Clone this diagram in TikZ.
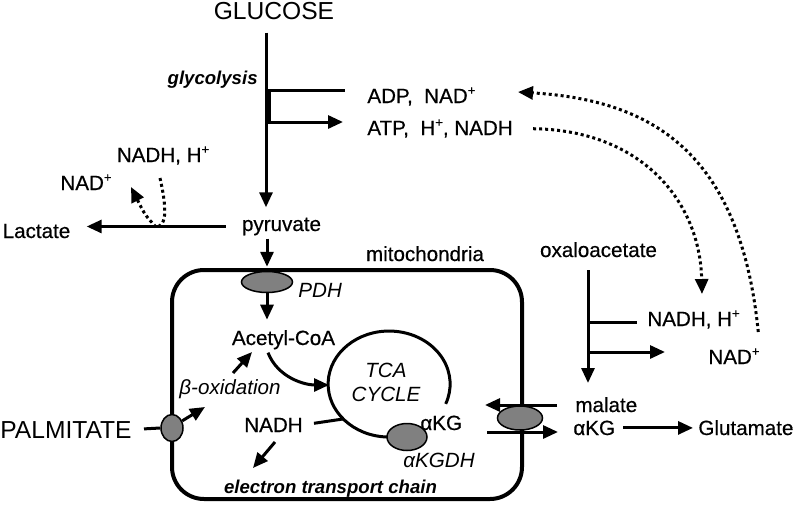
\documentclass[tikz,border=0pt]{standalone}
\usepackage{fontspec}
\setmainfont{Liberation Sans}
\usetikzlibrary{arrows.meta,shapes.geometric}

\definecolor{enzgray}{gray}{0.5}
\newcommand\ionp{\raisebox{0.75ex}{\fontsize{6.5}{6.5}\selectfont +}}

\tikzset{
    txt/.style={font=\fontsize{10.3}{12}\selectfont\addfontfeature{FakeBold=0.5}, inner sep=0pt},
    ital/.style={font=\fontsize{10.3}{12}\selectfont\itshape, inner sep=0pt},
    bigtxt/.style={font=\fontsize{12.3}{14}\selectfont, inner sep=0pt},
    note/.style={font=\fontsize{9.3}{11}\selectfont\bfseries\itshape, inner sep=0pt},
    enzyme/.style={ellipse, draw, line width=0.75pt, fill=enzgray, inner sep=0pt},
    link/.style={line width=1.5pt},
    flow/.style={line width=1.5pt, -{Triangle[length=7.5pt,width=6.5pt]}},
    hop/.style={line width=1.5pt, dash pattern=on 1.5pt off 1.5pt},
}

\begin{document}
\begin{tikzpicture}[x=0.5pt, y=-0.5pt]
        \useasboundingbox (0,0) rectangle (800,505);

        % mitochondrion and TCA cycle
        \draw[line width=2pt, rounded corners=16pt] (172,270) rectangle (522,499);
        \draw[link] (387,437) arc[start angle=92, end angle=382, x radius=61, y radius=53];

        % labels
        \node[bigtxt, anchor=base] (glucose) at (274,19) {GLUCOSE};
        \node[note, anchor=base east] (glyc) at (258,84) {glycolysis};
        \node[txt, anchor=base west] (adp) at (367,103) {ADP,\ \ NAD\ionp};
        \node[txt, anchor=base west] (atp) at (367,135) {ATP,\ \ H\ionp, NADH};
        \node[txt, anchor=base] (nadhL) at (163,162) {NADH, H\ionp};
        \node[txt, anchor=base] (nadL) at (86,190) {NAD\ionp};
        \node[txt, anchor=base] (lactate) at (36.5,238) {Lactate};
        \node[txt, anchor=base] (pyruvate) at (281.5,231) {pyruvate};
        \node[txt, anchor=base] (mito) at (425,261) {mitochondria};
        \node[txt, anchor=base] (oaa) at (598.5,257) {oxaloacetate};
        \node[txt, anchor=base west] (nadhR) at (647,326) {NADH, H\ionp};
        \node[txt, anchor=base west] (nadR) at (708,364) {NAD\ionp};
        \node[ital, anchor=base west] (pdhlbl) at (298,297) {PDH};
        \node[txt, anchor=base] (acoa) at (283.5,345) {Acetyl-CoA};
        \node[ital, anchor=base] (betaox) at (230,394) {β-oxidation};
        \node[ital, align=center] (tca) at (386,382.5) {TCA\\CYCLE};
        \node[txt, anchor=base] (nadhM) at (273.5,432) {NADH};
        \node[note, anchor=base] (etc) at (330.5,493) {electron transport chain};
        \node[txt, anchor=base west] (akgin) at (420,430) {αKG};
        \node[ital, anchor=base west] (akgdhlbl) at (403,467) {αKGDH};
        \node[txt, anchor=base west] (malate) at (575,412) {malate};
        \node[txt, anchor=base west] (akgout) at (573,435) {αKG};
        \node[txt, anchor=base west] (glut) at (698,435) {Glutamate};
        \node[bigtxt, anchor=base west] (palm) at (0,438) {PALMITATE};

        % enzymes and carriers
        \node[enzyme, minimum width=25.5pt, minimum height=10.5pt] (pdh) at (267,282) {};
        \node[enzyme, minimum width=11pt, minimum height=13.5pt] (fat) at (172,428) {};
        \node[enzyme, minimum width=20pt, minimum height=13.5pt] (akgdh) at (407,437) {};
        \node[enzyme, minimum width=22.5pt, minimum height=12pt] (carrier) at (520,418) {};

        \coordinate (gA) at (266,90);
        \coordinate (gB) at (266,122);
        \coordinate (lacIn) at (160,178);
        \coordinate (lacJ) at (156,227);
        \coordinate (lacOut) at (131,187);
        \coordinate (tcaW) at (329,385);
        \coordinate (tcaN) at (343,419);
        \coordinate (fatOut) at (205,407);
        \coordinate (boxA) at (233,373);
        \coordinate (boxB) at (252,352);
        \coordinate (etcA) at (275,442);
        \coordinate (etcB) at (253,468);
        \coordinate (mlA) at (557,405);
        \coordinate (mlB) at (485,405);
        \coordinate (kgA) at (487,432);
        \coordinate (kgB) at (558,432);
        \coordinate (oaA) at (588,270);
        \coordinate (oaB) at (588,383);
        \coordinate (oaN) at (588,322);
        \coordinate (oaD) at (588,352);
        \coordinate (adpIn) at (518,92);
        \coordinate (nadhIn) at (702,294);

        % glycolysis
        \draw[flow, shorten <=6.5pt, shorten >=5pt] (glucose.south -| gA) -- (pyruvate.north -| gA);
        \draw[link, shorten >=11pt] (gA) -- (gA -| adp.west);
        \draw[line width=2.5pt] ([xshift=1pt]gA) -- ([xshift=1pt]gB);
        \draw[flow, shorten >=12pt] (gB) -- (gB -| atp.west);

        % lactate
        \draw[flow, shorten <=8pt, shorten >=8pt] (pyruvate.west) -- (pyruvate.west -| lactate.east);
        \draw[hop] (lacIn) .. controls (166,205) and (168,226) .. (lacJ);
        \draw[hop, -{Triangle[length=7.5pt,width=6.5pt]}] (lacJ) .. controls (145,215) .. (lacOut);

        % into the mitochondrion
        \draw[flow, shorten <=1.5pt, shorten >=2pt] (pyruvate.south -| pdh) -- (pdh.north);
        \draw[flow, shorten >=5pt] (pdh.south) -- (pdh.south |- acoa.north);
        \draw[flow] ([xshift=-7.75pt, yshift=-1.5pt]acoa.south) .. controls (278,378) and (305,385) .. (tcaW);
        \draw[flow] (boxA) -- (boxB);
        \draw[link, shorten <=6pt] (palm.east) -- (fat.west);
        \draw[flow] (fat.35) -- (fatOut);
        \draw[link, shorten <=5.5pt] (nadhM.east) -- (tcaN);
        \draw[flow] (etcA) -- (etcB);

        % malate / aKG shuttle
        \draw[flow] (mlA) -- (mlB);
        \draw[flow] (kgA) -- (kgB);
        \draw[flow, shorten <=4pt, shorten >=2.5pt] (akgout.east) -- (akgout.east -| glut.west);
        \draw[flow] (oaA) -- (oaB);
        \draw[link, shorten >=5pt] (oaN) -- (oaN -| nadhR.west);
        \draw[flow, shorten >=21.5pt] (oaD) -- (oaD -| nadR.west);

        % NADH exchange
        \draw[hop, -{Triangle[length=7.5pt,width=6.5pt]}, shorten <=8pt] (nadR.north east) .. controls (740,150) and (650,100) .. (adpIn);
        \draw[hop, -{Triangle[length=7.5pt,width=6.5pt]}, shorten <=10pt] (atp.east) .. controls (640,130) and (700,200) .. (nadhIn);
\end{tikzpicture}
\end{document}
